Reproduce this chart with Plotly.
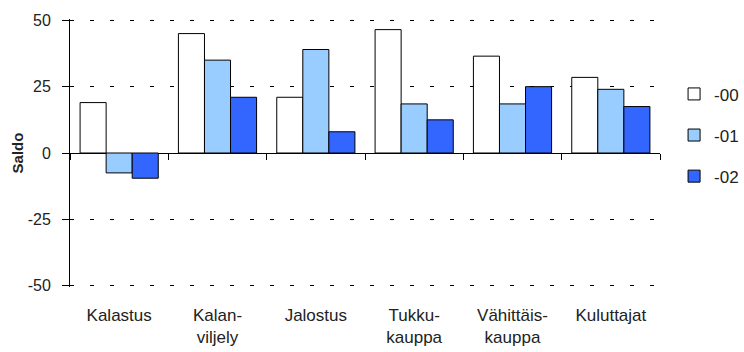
import plotly.graph_objects as go

categories = ["Kalastus", "Kalan-<br>viljely", "Jalostus", "Tukku-<br>kauppa",
              "Vähittäis-<br>kauppa", "Kuluttajat"]
series_names = ["-00", "-01", "-02"]
values_00 = [19, 45, 21, 46.5, 36.5, 28.5]
values_01 = [-7.5, 35, 39, 18.5, 18.5, 24]
values_02 = [-9.5, 21, 8, 12.5, 25, 17.5]
y_ticks = [-50, -25, 0, 25, 50]
y_tick_labels = ["-50", "-25", "0", "25", "50"]

colors = ["#FFFFFF", "#99CCFF", "#3366FF"]
font_family = "Arial, Liberation Sans, sans-serif"
text_color = "#222222"

fig = go.Figure()
for name, vals, col in zip(series_names, [values_00, values_01, values_02], colors):
    fig.add_trace(go.Bar(
        x=categories, y=vals, name=name, legendgroup=name,
        marker=dict(color=col, line=dict(color="#000000", width=1)),
    ))

# Tick marks between categories along the zero line
n = len(categories)
fig.add_trace(go.Scatter(x=[None], y=[None], xaxis="x2", showlegend=False,
                         hoverinfo="skip"))

fig.update_layout(
    width=744, height=352,
    margin=dict(l=70, r=84, t=19, b=65),
    paper_bgcolor="white", plot_bgcolor="white",
    barmode="group", bargap=0.205, bargroupgap=0,
    font=dict(family=font_family, size=16, color=text_color),
    showlegend=True,
    legend=dict(xref="container", yref="container", x=0.906, y=0.783,
                xanchor="left", yanchor="top",
                font=dict(size=17, color=text_color),
                tracegroupgap=16, itemwidth=30),
    xaxis=dict(
        type="category", showline=False, ticks="", showgrid=False,
        zeroline=False, tickfont=dict(size=17), ticklabelstandoff=16,
        automargin=False,
    ),
    xaxis2=dict(
        overlaying="x", anchor="free", position=0.5, type="linear",
        range=[-0.5, n - 0.5], tickmode="array",
        tickvals=[i - 0.5 for i in range(n + 1)],
        ticks="outside", ticklen=6, tickcolor="#000000", tickwidth=1,
        showticklabels=False, showgrid=False, zeroline=False, showline=False,
    ),
    yaxis=dict(
        range=[-50.5, 50.5], tickvals=y_ticks, ticktext=y_tick_labels,
        showline=True, linecolor="#000000",
        linewidth=1, ticks="outside", ticklen=7, tickcolor="#000000",
        showgrid=True, gridcolor="#000000", gridwidth=1, griddash="4px,16px",
        zeroline=True, zerolinecolor="#000000", zerolinewidth=1,
        tickfont=dict(size=16), ticklabelstandoff=8, automargin=False,
        title=dict(text="<b>Saldo</b>", font=dict(size=15), standoff=0),
    ),
)

fig.write_html("out.html")
